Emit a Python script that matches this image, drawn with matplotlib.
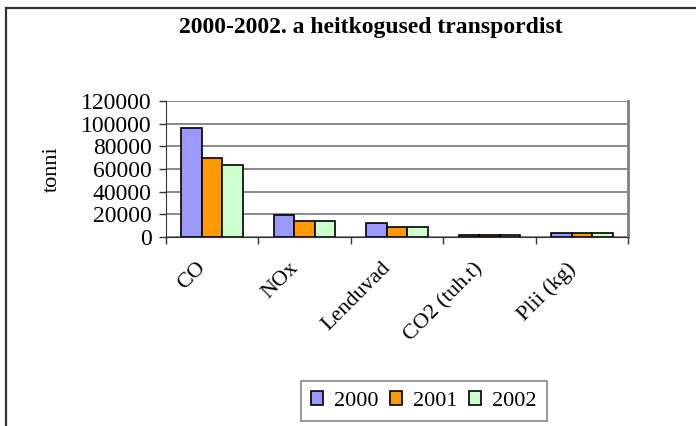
import matplotlib.pyplot as plt
from matplotlib.lines import Line2D
import numpy as np

# data
categories = ["CO", "NOx", "Lenduvad", "CO2 (tuh.t)", "Plii (kg)"]
years = ["2000", "2001", "2002"]
v2000 = [96500, 19500, 12500, 1500, 3500]
v2001 = [70000, 14500, 9000, 1500, 3500]
v2002 = [63500, 14500, 9000, 1500, 3500]
colors = ["#9999FF", "#FF9900", "#CCFFCC"]
yticks = [0, 20000, 40000, 60000, 80000, 100000, 120000]

plt.rcParams['font.family'] = ['Liberation Serif', 'DejaVu Serif']

fig = plt.figure(figsize=(6.96, 4.26), dpi=100)
# outer chart frame (only top and left visible in the crop)
top = 1 - 8 / 426
left = 6 / 696
fig.add_artist(Line2D([left, 1.0], [top, top], transform=fig.transFigure,
                      color="#333333", lw=1.6))
fig.add_artist(Line2D([left, left], [0, top], transform=fig.transFigure,
                      color="#333333", lw=1.6))

ax = fig.add_axes([166 / 696, 1 - 237 / 426, 462 / 696, 136 / 426])

x = np.arange(len(categories))
w = 1 / 4.5
for i, vals in enumerate([v2000, v2001, v2002]):
    ax.bar(x + (i - 1) * w, vals, w, color=colors[i], edgecolor="black",
           lw=1.2, label=years[i], zorder=3)

ax.set_xlim(-0.5, len(categories) - 0.5)
ax.set_ylim(0, 120000)
ax.set_yticks(yticks)
ax.set_yticklabels([str(t) for t in yticks], fontsize=17)
ax.yaxis.grid(True, color="#808080", lw=1.3, zorder=0)

ax.set_xticks(np.arange(len(categories) + 1) - 0.5)
ax.set_xticklabels([])
ax.tick_params(axis="x", length=5, width=1, color="#333333")
ax.tick_params(axis="y", length=5, width=1, color="#333333", pad=5.5)
for j, c in enumerate(categories):
    ax.text(j - 0.17, -0.16, c, transform=ax.get_xaxis_transform(),
            rotation=45, ha="right", va="top", rotation_mode="anchor",
            fontsize=16)

ax.spines["top"].set_visible(False)
ax.spines["right"].set_color("#808080")
ax.spines["right"].set_linewidth(2)
ax.spines["left"].set_color("#333333")
ax.spines["bottom"].set_color("#333333")

ax.set_ylabel("tonni", fontsize=16, labelpad=14)

fig.text(371 / 696, 1 - 27 / 426, "2000-2002. a heitkogused transpordist",
         ha="center", va="center", fontsize=17, fontweight="bold")

leg = fig.legend(loc="center", bbox_to_anchor=(424 / 696, 1 - 401 / 426),
                 ncol=3, fontsize=16, frameon=True, fancybox=False,
                 handlelength=0.55, handleheight=0.55, handletextpad=0.5,
                 columnspacing=0.5, borderpad=0.45)
leg.get_frame().set_edgecolor("#666666")
leg.get_frame().set_linewidth(1.2)

fig.savefig("out.png", dpi=100)
